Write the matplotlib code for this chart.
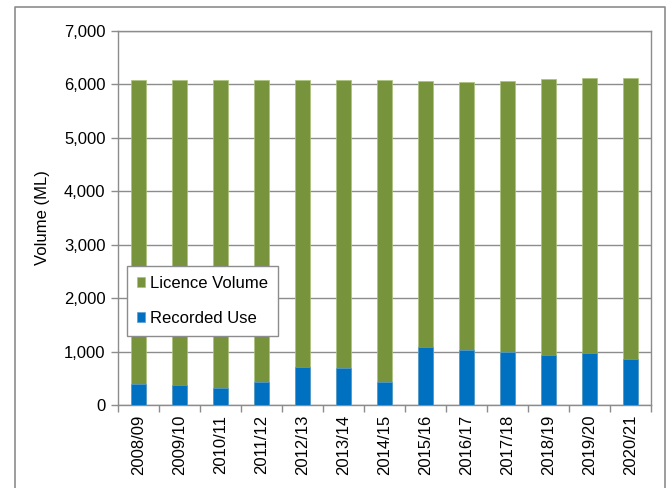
import matplotlib.pyplot as plt
import numpy as np

plt.rcParams['font.family'] = ['Liberation Sans', 'DejaVu Sans']

years = ['2008/09', '2009/10', '2010/11', '2011/12', '2012/13', '2013/14', '2014/15',
         '2015/16', '2016/17', '2017/18', '2018/19', '2019/20', '2020/21']
licence = [6080, 6080, 6080, 6080, 6080, 6080, 6080, 6062, 6037, 6062, 6105, 6123, 6123]
recorded = [400, 375, 319, 437, 712, 700, 425, 1094, 1037, 1000, 944, 975, 862]

green = '#77933C'
blue = '#0070C0'
gray = '#8C8C8C'

fig = plt.figure(figsize=(6.66, 4.88), dpi=100)
ax = fig.add_axes([118/666, 1-405/488, 533/666, 374/488])

x = np.arange(len(years))
ax.bar(x, licence, width=0.39, color=green, edgecolor='#a9c27a', linewidth=0.5,
       label='Licence Volume', zorder=2)
ax.bar(x, recorded, width=0.39, color=blue, edgecolor='#5aa0d8', linewidth=0.5,
       label='Recorded Use', zorder=3)

ax.set_xlim(-0.5, len(years)-0.5)
ax.set_ylim(0, 7000)
ax.set_yticks(np.arange(0, 7001, 1000))
ax.set_yticklabels([f'{v:,}' for v in range(0, 7001, 1000)], fontsize=12)
ax.yaxis.grid(True, color=gray, linewidth=1, zorder=0)
ax.set_axisbelow(True)

ax.set_xticks(x)
ax.set_xticklabels(years, rotation=90, fontsize=12)
ax.tick_params(axis='x', length=0, pad=7)
ax.set_xticks(np.arange(-0.5, len(years)), minor=True)
ax.tick_params(axis='x', which='minor', length=5, color=gray, width=1)
ax.tick_params(axis='y', length=5, color=gray, width=1, pad=4)

for s in ax.spines.values():
    s.set_color(gray)
    s.set_linewidth(1)

ax.set_ylabel('Volume (ML)', fontsize=12, labelpad=10)

leg = ax.legend(loc='lower left', bbox_to_anchor=(0.017, 0.185), borderaxespad=0,
                fontsize=12, fancybox=False, framealpha=1, edgecolor=gray,
                handlelength=0.5, handleheight=0.5, handletextpad=0.3,
                labelspacing=1.2, borderpad=0.6)
leg.get_frame().set_linewidth(1)

# outer chart border
fx0, fx1, fy1 = 15/666, 665/666, 1-7/488
fig.add_artist(plt.Line2D([fx0, fx0, fx1, fx1], [0, fy1, fy1, 0], color=gray, linewidth=1.2))

fig.savefig('out.png', dpi=100)
